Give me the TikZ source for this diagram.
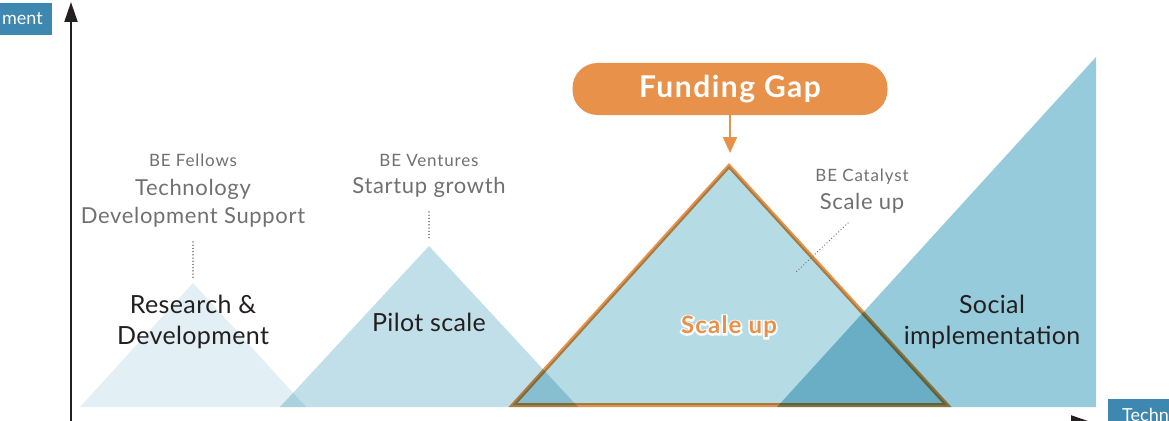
\documentclass[tikz,border=0pt]{standalone}
\usepackage{fontspec}
\setmainfont{Lato}
\usetikzlibrary{arrows.meta}
\definecolor{rdcol}{HTML}{E2EFF4}
\definecolor{pilotcol}{HTML}{C0DFE8}
\definecolor{scalecol}{HTML}{B5DBE5}
\definecolor{socialcol}{HTML}{95CBDB}
\definecolor{orangec}{HTML}{E8914A}
\definecolor{axisc}{HTML}{231F20}
\definecolor{grayt}{HTML}{707070}
\definecolor{labelblue}{HTML}{3D87B1}
\begin{document}
\begin{tikzpicture}[x=1pt,y=-1pt,
  smallgray/.style={text=grayt, font=\fontsize{17}{20}\selectfont\addfontfeature{LetterSpace=5}, inner sep=0pt},
  midgray/.style={text=grayt, font=\fontsize{22}{28}\selectfont\addfontfeature{LetterSpace=3}, align=center, inner sep=0pt},
  stagetext/.style={text=axisc, font=\fontsize{25}{31}\selectfont\addfontfeature{LetterSpace=1.5}, align=center, inner sep=0pt},
  axisline/.style={draw=axisc, line width=2pt},
  dotline/.style={draw=grayt, line width=1.4pt, line cap=round, dash pattern=on 0.01pt off 3.2pt},
  axislabel/.style={fill=labelblue, text=white, font=\fontsize{18}{20}\selectfont, minimum height=32pt, inner ysep=0pt}
]
\useasboundingbox (0,0) rectangle (1169,420);

% triangles
\begin{scope}[blend mode=multiply]
  \fill[rdcol] (80,407) -- (193,283) -- (306,407) -- cycle;
  \fill[pilotcol] (280,407) -- (429,246) -- (578,407) -- cycle;
  \filldraw[fill=scalecol, draw=orangec, line width=4pt, line join=miter] (513,405) -- (729,166) -- (947,405) -- cycle;
  \fill[socialcol] (777,407) -- (1096,57) -- (1096,407) -- cycle;
\end{scope}

% axes
\coordinate (O) at (71,422);
\coordinate (ytop) at (71,2);
\coordinate (xend) at (1091,422);
\draw[axisline, -{Triangle[width=13pt,length=20pt]}] (O) -- (ytop);
\draw[axisline, -{Triangle[width=13pt,length=20pt]}] (O) -- (xend);
\node[axislabel, anchor=east, inner xsep=9pt] (ylab) at (52,19) {ment};
\node[axislabel, anchor=west, inner xsep=14pt] (xlab) at (1108,415) {Techn};

% funding gap
\node[fill=orangec, rounded corners=25pt, minimum width=315pt, minimum height=52pt, text=white, font=\bfseries\fontsize{30}{32}\selectfont\addfontfeature{LetterSpace=5}] (fg) at (730,89) {Funding Gap};
\coordinate (apex) at (730,153);
\draw[draw=orangec, line width=2pt, -{Triangle[width=14pt,length=16pt]}] (fg.south) -- (apex);

% R&D
\node[smallgray] (befel) at (193,160) {BE Fellows};
\node[midgray] (tech) at (193,203) {Technology\\Development Support};
\node[stagetext] (rd) at (193,322) {Research \&\\Development};
\coordinate (rdt) at (193,242);
\coordinate (rdb) at (193,278);
\draw[dotline] (rdt) -- (rdb);

% Pilot
\node[smallgray] (bev) at (429,160) {BE Ventures};
\node[midgray] (sg) at (429,187) {Startup growth};
\node[stagetext] (pilot) at (429,322) {Pilot scale};
\coordinate (pt) at (429,212);
\coordinate (pb) at (429,240);
\draw[dotline] (pt) -- (pb);

% Scale up
\node[smallgray] (bec) at (862,177) {BE Catalyst};
\node[midgray] (cat) at (862,203) {Scale up};
\coordinate (ct) at (848,223);
\coordinate (cb) at (795,273);
\draw[dotline] (ct) -- (cb);
\node[text=orangec, font=\bfseries\fontsize{24}{28}\selectfont\addfontfeature{LetterSpace=5}, inner sep=0pt] (su) at (729,327) {\rlap{\textcolor{white}{\addfontfeature{FakeBold=14}Scale up}}Scale up};

% Social
\node[stagetext] (social) at (992,322) {Social\\implementation};
\end{tikzpicture}
\end{document}
